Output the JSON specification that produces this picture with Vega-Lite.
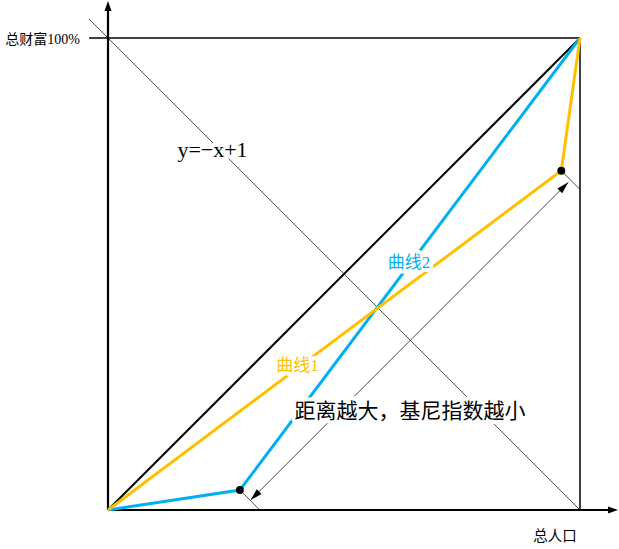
{
  "$schema": "https://vega.github.io/schema/vega-lite/v6.json",
  "width": 619,
  "height": 549,
  "autosize": {"type": "none"},
  "padding": 0,
  "background": "white",
  "config": {"view": {"stroke": null}},
  "datasets": {
    "segs": [
      {"name": "frame-top", "x": -0.04, "y": 1, "x2": 1, "y2": 1},
      {"name": "frame-right", "x": 1, "y": 1, "x2": 1, "y2": 0},
      {"name": "x-axis", "x": 0, "y": 0, "x2": 1.065, "y2": 0},
      {"name": "y-axis", "x": 0, "y": 0, "x2": 0, "y2": 1.065},
      {"name": "equality", "x": 0, "y": 0, "x2": 1, "y2": 1},
      {"name": "anti", "x": -0.04, "y": 1.04, "x2": 1, "y2": 0},
      {"name": "perp-low", "x": 0.2795, "y": 0.0424, "x2": 0.3215, "y2": 0},
      {"name": "perp-high", "x": 0.9604, "y": 0.7188, "x2": 1, "y2": 0.6792},
      {"name": "gap", "x": 0.3023, "y": 0.0212, "x2": 0.9752, "y2": 0.6943}
    ],
    "curves": [
      {"curve": "曲线1", "i": 0, "x": 0, "y": 0},
      {"curve": "曲线1", "i": 1, "x": 0.9604, "y": 0.7188},
      {"curve": "曲线1", "i": 2, "x": 1, "y": 1},
      {"curve": "曲线2", "i": 0, "x": 0, "y": 0},
      {"curve": "曲线2", "i": 1, "x": 0.2795, "y": 0.0424},
      {"curve": "曲线2", "i": 2, "x": 1, "y": 1}
    ]
  },
  "encoding": {
    "x": {"field": "x", "type": "quantitative", "axis": null,
          "scale": {"domain": [-0.228814, 1.082627], "nice": false, "zero": false}},
    "y": {"field": "y", "type": "quantitative", "axis": null,
          "scale": {"domain": [-0.082627, 1.080508], "nice": false, "zero": false}}
  },
  "layer": [
    {
      "data": {"name": "segs"},
      "transform": [{"filter": {"field": "name", "oneOf": ["anti", "perp-low", "perp-high", "gap"]}}],
      "mark": {"type": "rule", "color": "#222222", "strokeWidth": 0.8},
      "encoding": {"x2": {"field": "x2"}, "y2": {"field": "y2"}}
    },
    {
      "data": {"name": "segs"},
      "transform": [{"filter": {"field": "name", "oneOf": ["frame-top", "frame-right"]}}],
      "mark": {"type": "rule", "color": "black", "strokeWidth": 1.5},
      "encoding": {"x2": {"field": "x2"}, "y2": {"field": "y2"}}
    },
    {
      "data": {"name": "segs"},
      "transform": [{"filter": {"field": "name", "oneOf": ["x-axis", "y-axis"]}}],
      "mark": {"type": "rule", "color": "black", "strokeWidth": 2.2},
      "encoding": {"x2": {"field": "x2"}, "y2": {"field": "y2"}}
    },
    {
      "data": {"name": "segs"},
      "transform": [{"filter": {"field": "name", "equal": "equality"}}],
      "mark": {"type": "rule", "color": "black", "strokeWidth": 2},
      "encoding": {"x2": {"field": "x2"}, "y2": {"field": "y2"}}
    },
    {
      "data": {"name": "curves"},
      "transform": [{"filter": {"field": "curve", "equal": "曲线2"}}],
      "mark": {"type": "line", "color": "#00B0F0", "strokeWidth": 3},
      "encoding": {"order": {"field": "i"}}
    },
    {
      "data": {"name": "curves"},
      "transform": [{"filter": {"field": "curve", "equal": "曲线1"}}],
      "mark": {"type": "line", "color": "#FFC000", "strokeWidth": 3},
      "encoding": {"order": {"field": "i"}}
    },
    {
      "data": {"values": [{"x": 0.2795, "y": 0.0424}, {"x": 0.9604, "y": 0.7188}]},
      "mark": {"type": "point", "shape": "circle", "filled": true, "color": "black", "opacity": 1, "size": 62}
    },
    {
      "data": {"values": [{"x": 0, "y": 1.0784}]},
      "mark": {"type": "point", "shape": "M0,0L0.35,1L-0.35,1Z", "filled": true, "color": "black", "opacity": 1, "size": 400, "angle": 0}
    },
    {
      "data": {"values": [{"x": 1.0805, "y": 0}]},
      "mark": {"type": "point", "shape": "M0,0L0.35,1L-0.35,1Z", "filled": true, "color": "black", "opacity": 1, "size": 400, "angle": 90}
    },
    {
      "data": {"values": [{"x": 0.9752, "y": 0.6943}]},
      "mark": {"type": "point", "shape": "M0,0L0.28,1L-0.28,1Z", "filled": true, "color": "black", "opacity": 1, "size": 576, "angle": 45}
    },
    {
      "data": {"values": [{"x": 0.3023, "y": 0.0212}]},
      "mark": {"type": "point", "shape": "M0,0L0.28,1L-0.28,1Z", "filled": true, "color": "black", "opacity": 1, "size": 576, "angle": 225}
    },
    {
      "data": {"values": [{"label": "y=−x+1", "x": 0.2214, "y": 0.7479}]},
      "layer": [
        {"mark": {"type": "text", "font": "Liberation Serif", "fontSize": 22, "align": "center", "baseline": "alphabetic", "stroke": "white", "strokeWidth": 8, "strokeJoin": "round", "fill": "white"}},
        {"mark": {"type": "text", "font": "Liberation Serif", "fontSize": 22, "align": "center", "baseline": "alphabetic", "fill": "black"}}
      ],
      "encoding": {"text": {"field": "label"}}
    },
    {
      "data": {"values": [{"label": "曲线2", "x": 0.6377, "y": 0.5233}]},
      "layer": [
        {"mark": {"type": "text", "font": "Liberation Serif, Noto Sans CJK SC", "fontSize": 17, "align": "center", "baseline": "middle", "stroke": "white", "strokeWidth": 8, "strokeJoin": "round", "fill": "white"}},
        {"mark": {"type": "text", "font": "Liberation Serif, Noto Sans CJK SC", "fontSize": 17, "align": "center", "baseline": "middle", "fill": "#00B0F0"}}
      ],
      "encoding": {"text": {"field": "label"}}
    },
    {
      "data": {"values": [{"label": "曲线1", "x": 0.4015, "y": 0.3041}]},
      "layer": [
        {"mark": {"type": "text", "font": "Liberation Serif, Noto Sans CJK SC", "fontSize": 17, "align": "center", "baseline": "middle", "stroke": "white", "strokeWidth": 8, "strokeJoin": "round", "fill": "white"}},
        {"mark": {"type": "text", "font": "Liberation Serif, Noto Sans CJK SC", "fontSize": 17, "align": "center", "baseline": "middle", "fill": "#FFC000"}}
      ],
      "encoding": {"text": {"field": "label"}}
    },
    {
      "data": {"values": [{"label": "距离越大，基尼指数越小", "x": 0.6398, "y": 0.2076}]},
      "layer": [
        {"mark": {"type": "text", "font": "Noto Sans CJK SC", "fontSize": 21, "align": "center", "baseline": "middle", "stroke": "white", "strokeWidth": 8, "strokeJoin": "round", "fill": "white"}},
        {"mark": {"type": "text", "font": "Noto Sans CJK SC", "fontSize": 21, "align": "center", "baseline": "middle", "fill": "black"}}
      ],
      "encoding": {"text": {"field": "label"}}
    },
    {
      "data": {"values": [{"label": "总财富100%", "x": -0.0593, "y": 0.9958}]},
      "mark": {"type": "text", "font": "Liberation Serif, Noto Sans CJK SC", "fontSize": 14, "align": "right", "baseline": "middle", "fill": "black"},
      "encoding": {"text": {"field": "label"}}
    },
    {
      "data": {"values": [{"label": "总人口", "x": 0.947, "y": -0.0572}]},
      "mark": {"type": "text", "font": "Noto Sans CJK SC", "fontSize": 14.5, "align": "center", "baseline": "middle", "fill": "black"},
      "encoding": {"text": {"field": "label"}}
    }
  ]
}
